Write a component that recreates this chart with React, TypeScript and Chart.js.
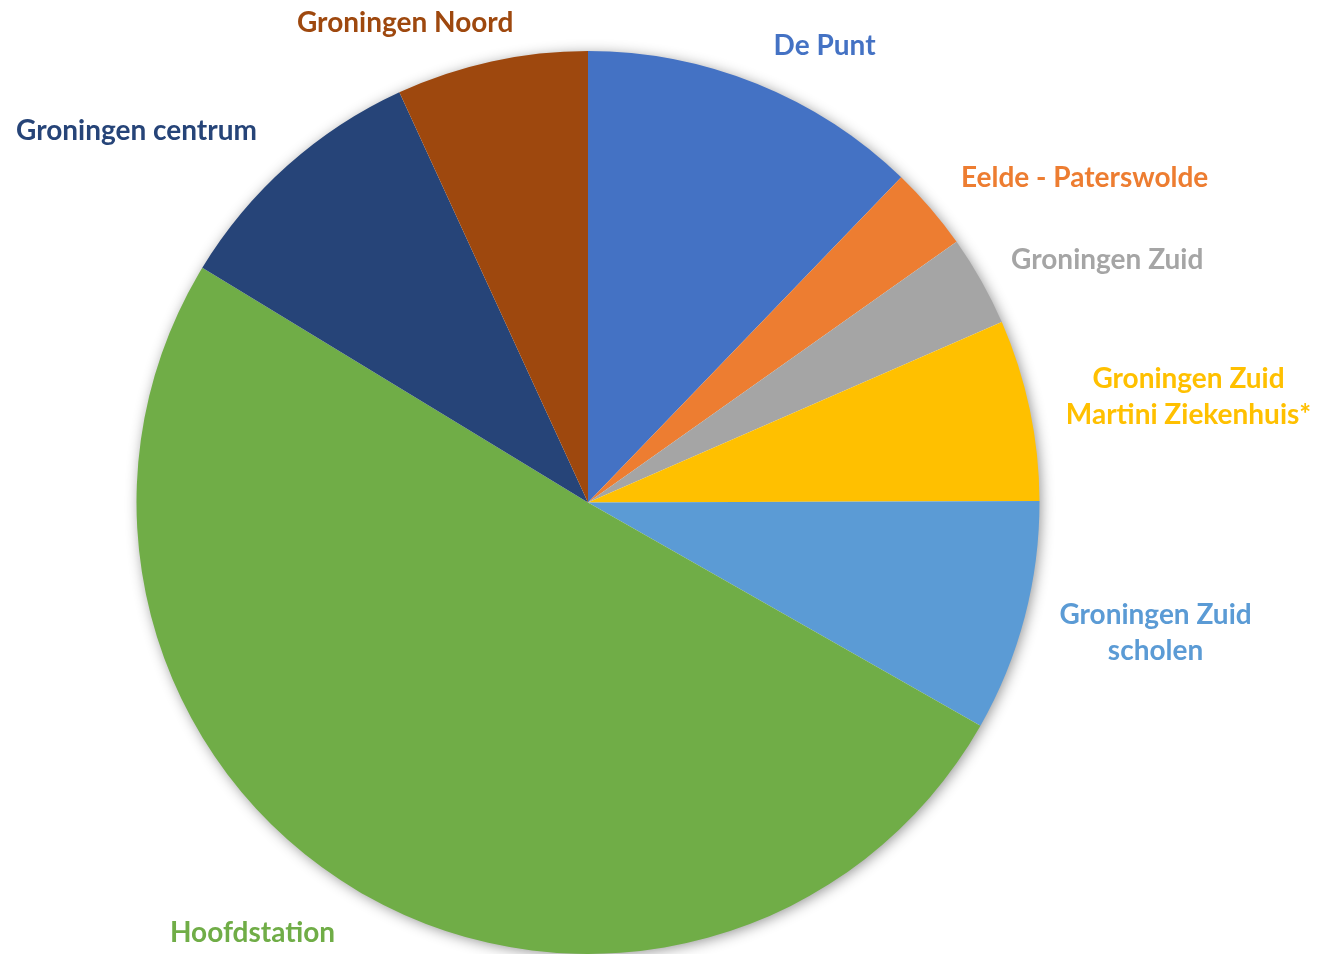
import React, { useEffect, useRef } from "react";
import { Chart, registerables } from "chart.js";

Chart.register(...registerables);

const categories: string[][] = [
  ["De Punt"],
  ["Eelde - Paterswolde"],
  ["Groningen Zuid"],
  ["Groningen Zuid", "Martini Ziekenhuis*"],
  ["Groningen Zuid", "scholen"],
  ["Hoofdstation"],
  ["Groningen centrum"],
  ["Groningen Noord"],
];

const shares: number[] = [12.2, 3.0, 3.25, 6.5, 8.28, 50.47, 9.44, 6.86];

const colors: string[] = [
  "#4472C4",
  "#ED7D31",
  "#A5A5A5",
  "#FFC000",
  "#5B9BD5",
  "#70AD47",
  "#264478",
  "#9E480E",
];

// label centre offsets relative to pie centre, in units of the pie radius
const labelOffsets: [number, number][] = [
  [0.524, -1.011],
  [1.1, -0.719],
  [1.15, -0.538],
  [1.33, -0.233],
  [1.257, 0.29],
  [-0.743, 0.954],
  [-1.0, -0.823],
  [-0.405, -1.062],
];

const FONT = "bold 28px Lato";
const LINE_H = 36;

const shadowPlugin = {
  id: "pieShadow",
  beforeDatasetsDraw(chart: any) {
    const meta = chart.getDatasetMeta(0);
    const arc = meta.data[0];
    if (!arc) return;
    const { x, y, outerRadius } = arc.getProps(["x", "y", "outerRadius"], true);
    const ctx = chart.ctx;
    ctx.save();
    ctx.beginPath();
    ctx.arc(x, y, outerRadius - 1, 0, Math.PI * 2);
    ctx.fillStyle = "#ffffff";
    ctx.shadowColor = "rgba(0,0,0,0.45)";
    ctx.shadowBlur = 14;
    ctx.shadowOffsetX = 2;
    ctx.shadowOffsetY = 2;
    ctx.fill();
    ctx.restore();
  },
};

const labelPlugin = {
  id: "outsideLabels",
  afterDatasetsDraw(chart: any) {
    const meta = chart.getDatasetMeta(0);
    const arc = meta.data[0];
    if (!arc) return;
    const { x, y, outerRadius } = arc.getProps(["x", "y", "outerRadius"], true);
    const ctx = chart.ctx;
    ctx.save();
    ctx.font = FONT;
    ctx.textAlign = "center";
    ctx.textBaseline = "middle";
    categories.forEach((lines, i) => {
      const [ox, oy] = labelOffsets[i];
      const cx = x + ox * outerRadius;
      const cy = y + oy * outerRadius;
      ctx.fillStyle = colors[i];
      const top = cy - ((lines.length - 1) * LINE_H) / 2;
      lines.forEach((ln, j) => ctx.fillText(ln, cx, top + j * LINE_H));
    });
    ctx.restore();
  },
};

export default function App() {
  const ref = useRef<HTMLCanvasElement | null>(null);
  useEffect(() => {
    document.body.style.margin = "0";
    if (!ref.current) return;
    const chart = new Chart(ref.current, {
      type: "pie",
      data: {
        labels: categories.map((l) => l.join(" ")),
        datasets: [
          {
            data: shares,
            backgroundColor: colors,
            borderWidth: 0,
          },
        ],
      },
      options: {
        responsive: false,
        animation: false,
        layout: { padding: { top: 51, bottom: 0, left: 0, right: 144 } },
        plugins: {
          legend: { display: false },
          tooltip: { enabled: false },
        },
      },
      plugins: [shadowPlugin, labelPlugin],
    });
    return () => chart.destroy();
  }, []);
  return (
    <div style={{ position: "fixed", top: 0, left: 0, width: 1320, height: 954, background: "#fff" }}>
      <canvas ref={ref} width={1320} height={954} style={{ display: "block" }} />
    </div>
  );
}
